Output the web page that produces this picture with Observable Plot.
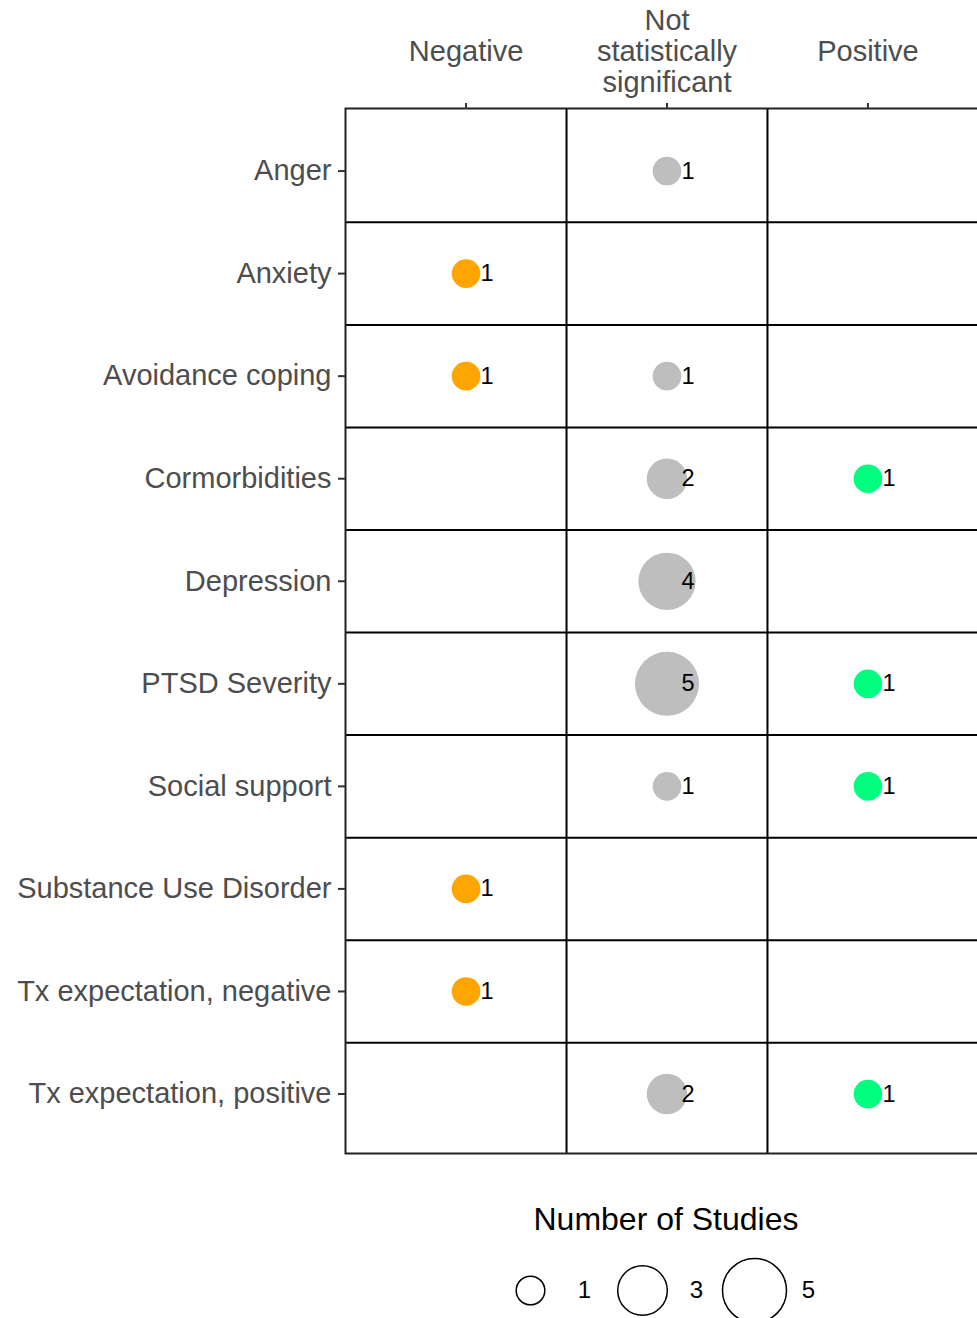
<!DOCTYPE html>
<html><head><meta charset="utf-8">
<script src="https://cdn.jsdelivr.net/npm/d3@7"></script>
<script src="https://cdn.jsdelivr.net/npm/@observablehq/plot@0.6"></script>
<style>
html,body{margin:0;padding:0;background:#fff;overflow:hidden;width:977px;height:1318px;}
#wrap{position:relative;width:977px;height:1318px;overflow:hidden;font-family:"Liberation Sans",Arial,sans-serif;}
#main{position:absolute;left:0;top:0;width:988px;}
#main svg{max-width:none !important;}
#legtitle{position:absolute;left:366px;width:600px;top:1202px;text-align:center;font-size:32px;line-height:34px;color:#000;}
#legend{position:absolute;left:0;top:1250px;}
</style></head><body><div id="wrap"><div id="main"></div><div id="legtitle">Number of Studies</div><div id="legend"></div></div>
<script>
// categories
const outcomes = ["Anger","Anxiety","Avoidance coping","Cormorbidities","Depression","PTSD Severity","Social support","Substance Use Disorder","Tx expectation, negative","Tx expectation, positive"];
const results = ["Negative","Not statistically significant","Positive"];
const resultLabels = ["Negative","Not\nstatistically\nsignificant","Positive"];
const resultColors = ["#FFA500","#BEBEBE","#00FF7F"];
// series values
const rowOutcome = ["Anger","Anxiety","Avoidance coping","Avoidance coping","Cormorbidities","Cormorbidities","Depression","PTSD Severity","PTSD Severity","Social support","Social support","Substance Use Disorder","Tx expectation, negative","Tx expectation, positive","Tx expectation, positive"];
const rowResult = ["Not statistically significant","Negative","Negative","Not statistically significant","Not statistically significant","Positive","Not statistically significant","Not statistically significant","Positive","Not statistically significant","Positive","Negative","Negative","Not statistically significant","Positive"];
const rowCount = [1,1,1,1,2,1,4,5,1,1,1,1,1,2,1];
const legendValues = [1,3,5];

const data = rowOutcome.map((o,i)=>({outcome:o, result:rowResult[i], count:rowCount[i], xi: results.indexOf(rowResult[i])+1, yi: outcomes.indexOf(o)+1}));
const xMid = d3.range(1, results.length).map(i=>i+0.5);
const yMid = d3.range(1, outcomes.length).map(i=>i+0.5);
const rScale = {type:"sqrt", domain:[0,5], range:[0,32]};
const font = "'Liberation Sans', Arial, sans-serif";

const main = Plot.plot({
  width: 988, height: 1175, marginLeft: 345, marginRight: 0, marginTop: 108, marginBottom: 22,
  style: {fontFamily: font, background:"white", maxWidth:"none"},
  x: {domain:[0.4, results.length+0.6], axis: null},
  y: {domain:[0.39, outcomes.length+0.58], reverse: true, axis: null},
  r: rScale,
  color: {domain: results, range: resultColors},
  marks: [
    Plot.ruleX(xMid, {stroke:"black", strokeWidth:2}),
    Plot.ruleY(yMid, {stroke:"black", strokeWidth:2}),
    Plot.frame({stroke:"#222", strokeWidth:2}),
    Plot.dot(data, {x:"xi", y:"yi", r:"count", fill:"result"}),
    Plot.text(data, {x:"xi", y:"yi", text: d=>String(d.count), dx:21, fontSize:23.5, fill:"black"}),
    Plot.axisX(d3.range(1, results.length+1), {anchor:"top", tickSize:6, tickPadding:51, tickFormat: i=>resultLabels[i-1], fontSize:29, fill:"#4D4D4D", stroke:"#333", strokeWidth:2, lineHeight:1.07, lineAnchor:"middle", label:null}),
    Plot.axisY(d3.range(1, outcomes.length+1), {anchor:"left", tickSize:7, tickPadding:7, tickFormat: i=>outcomes[i-1], fontSize:29, fill:"#4D4D4D", stroke:"#333", strokeWidth:2, label:null})
  ]
});
document.getElementById("main").appendChild(main);

const legend = Plot.plot({
  width: 977, height: 80, marginLeft: 530, marginRight: 223, marginTop: 0, marginBottom: 0,
  style: {fontFamily: font, background:"transparent", overflow:"visible"},
  x: {domain:[1,5], axis:null},
  r: rScale,
  marks: [
    Plot.dot(legendValues, {x: d=>d, r: d=>d, stroke:"black", strokeWidth:1.5, fill:"none"}),
    Plot.text(legendValues, {x: d=>d, text: d=>String(d), dx:54, fontSize:24, fill:"black"})
  ]
});
document.getElementById("legend").appendChild(legend);
</script>
</body></html>
